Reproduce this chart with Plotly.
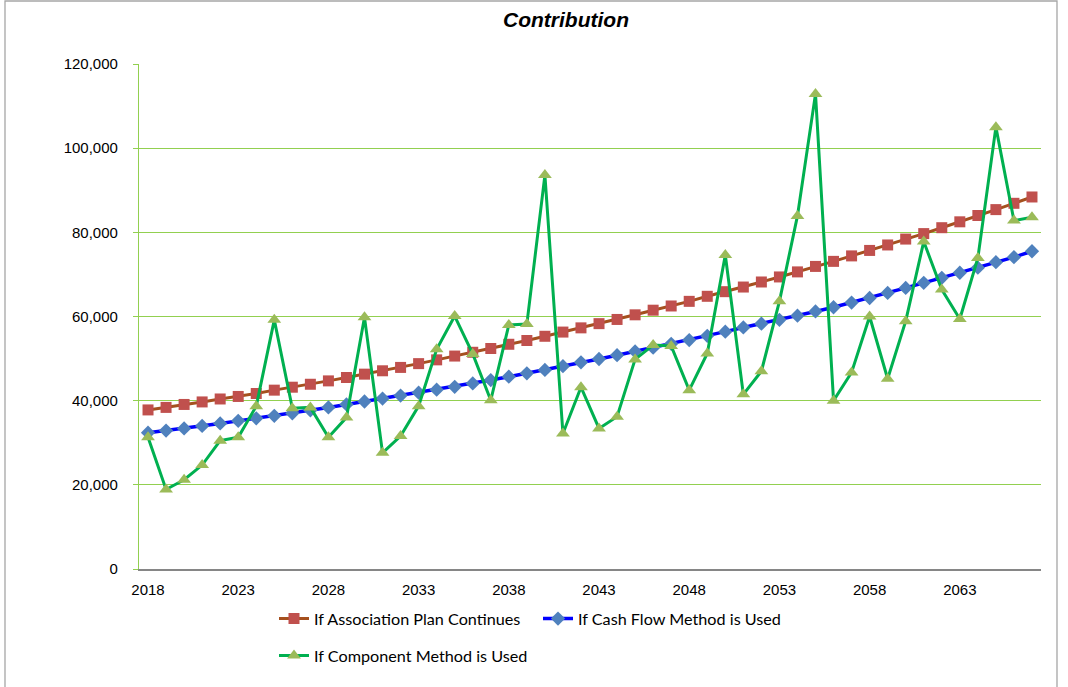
import plotly.graph_objects as go

# Fiscal years on the category axis
years = [2018, 2019, 2020, 2021, 2022, 2023, 2024, 2025, 2026, 2027,
         2028, 2029, 2030, 2031, 2032, 2033, 2034, 2035, 2036, 2037,
         2038, 2039, 2040, 2041, 2042, 2043, 2044, 2045, 2046, 2047,
         2048, 2049, 2050, 2051, 2052, 2053, 2054, 2055, 2056, 2057,
         2058, 2059, 2060, 2061, 2062, 2063, 2064, 2065, 2066, 2067]

# Annual contribution under each funding approach
association_plan = [37800, 38400, 39100, 39700, 40400, 41000, 41700, 42500, 43200, 43900,
                    44700, 45500, 46300, 47100, 47900, 48800, 49700, 50600, 51500, 52400,
                    53400, 54300, 55300, 56300, 57300, 58300, 59300, 60400, 61500, 62500,
                    63600, 64800, 65900, 67000, 68200, 69400, 70600, 71900, 73100, 74400,
                    75700, 77000, 78400, 79700, 81100, 82500, 84000, 85400, 86900, 88400]

cash_flow = [32400, 32900, 33400, 34000, 34600, 35200, 35800, 36400, 37000, 37700,
             38400, 39100, 39800, 40500, 41200, 41900, 42600, 43300, 44100, 44900,
             45700, 46500, 47300, 48200, 49100, 49900, 50800, 51700, 52600, 53500,
             54400, 55400, 56400, 57400, 58300, 59200, 60200, 61200, 62200, 63300,
             64400, 65600, 66800, 68000, 69200, 70400, 71600, 72900, 74100, 75500]

component = [31300, 18900, 21200, 24700, 30500, 31300, 38700, 59200, 38200, 38400,
             31300, 36000, 59800, 27600, 31600, 38700, 52200, 60100, 51100, 40100,
             58000, 58200, 93600, 32200, 43200, 33400, 36200, 49800, 53200, 53000,
             42500, 51200, 74600, 41500, 47000, 63600, 83900, 112900, 40000, 46700,
             60000, 45200, 58900, 77800, 66400, 59400, 73900, 105000, 82800, 83600]

year_labels = [2018, 2023, 2028, 2033, 2038, 2043, 2048, 2053, 2058, 2063]
y_ticks = [0, 20000, 40000, 60000, 80000, 100000, 120000]

GRID = "#92D050"
AXIS_GRAY = "#868686"
TICK_FONT = dict(family="Liberation Sans, Arial", size=15, color="#000000")
LEGEND_FONT = dict(family="Lato, Carlito, Calibri, sans-serif", size=16.2, color="#000000")

fig = go.Figure()

fig.add_trace(go.Scatter(
    x=years, y=association_plan, name="If Association Plan Continues",
    mode="lines+markers",
    line=dict(color="#A5501E", width=3),
    marker=dict(symbol="square", size=11, color="#C0504D"),
    legend="legend",
))
fig.add_trace(go.Scatter(
    x=years, y=cash_flow, name="If Cash Flow Method is Used",
    mode="lines+markers",
    line=dict(color="#0000FF", width=3.5),
    marker=dict(symbol="diamond", size=11, color="#4F81BD"),
    legend="legend",
))
fig.add_trace(go.Scatter(
    x=years, y=component, name="If Component Method is Used",
    mode="lines+markers",
    line=dict(color="#00B050", width=3),
    marker=dict(symbol="triangle-up", size=12, color="#9BBB59"),
    legend="legend2",
))

fig.update_layout(
    width=1068, height=687,
    margin=dict(l=139, r=27, t=64, b=118, autoexpand=False),
    paper_bgcolor="white", plot_bgcolor="white",
    title=dict(
        text="Contribution", x=566 / 1068, xanchor="center", xref="container",
        y=1 - 20 / 687, yanchor="middle", yref="container",
        font=dict(family="Liberation Sans, Arial", size=21, color="#000000",
                  weight="bold", style="italic"),
    ),
    xaxis=dict(
        range=[2017.5, 2067.5], tickmode="array", tickvals=year_labels,
        ticktext=[str(v) for v in year_labels], ticks="",
        showline=True, linecolor=AXIS_GRAY, linewidth=1.5,
        showgrid=False, zeroline=False, tickfont=TICK_FONT,
        ticklabelstandoff=6, automargin=False,
    ),
    xaxis2=dict(
        overlaying="x", anchor="y", side="bottom", matches="x",
        range=[2017.5, 2067.5], tickmode="linear", tick0=2017.5, dtick=3,
        ticks="outside", ticklen=5, tickcolor=AXIS_GRAY, tickwidth=1.5,
        showticklabels=False, showgrid=False, zeroline=False, showline=False,
        automargin=False,
        minor=dict(tick0=2017.5, dtick=1.5, ticks="inside", ticklen=5,
                   tickcolor=AXIS_GRAY, tickwidth=1.5, showgrid=False),
    ),
    yaxis=dict(
        range=[0, 120000], tickmode="array", tickvals=y_ticks,
        tickformat=",d", ticks="outside", ticklen=5, tickcolor=GRID,
        showline=True, linecolor=GRID, linewidth=1.2,
        showgrid=True, gridcolor=GRID, gridwidth=1.2, zeroline=False,
        tickfont=TICK_FONT, ticklabelstandoff=12, automargin=False,
    ),
    showlegend=True,
    legend=dict(
        orientation="h", xref="container", yref="container",
        x=274 / 1068, y=1 - 619 / 687, xanchor="left", yanchor="middle",
        font=LEGEND_FONT, entrywidth=219, entrywidthmode="pixels",
        bgcolor="rgba(0,0,0,0)", itemclick=False,
    ),
    legend2=dict(
        orientation="h", xref="container", yref="container",
        x=274 / 1068, y=1 - 656 / 687, xanchor="left", yanchor="middle",
        font=LEGEND_FONT, bgcolor="rgba(0,0,0,0)", itemclick=False,
    ),
    shapes=[dict(
        type="rect", xref="paper", yref="paper",
        x0=(5 - 139) / 902, x1=(1057 - 139) / 902,
        y0=(569 - 700) / 505, y1=(569 - 1) / 505,
        line=dict(color="#A6A6A6", width=1.3), fillcolor="rgba(0,0,0,0)",
        layer="below",
    )],
)

fig.write_html("out.html")
